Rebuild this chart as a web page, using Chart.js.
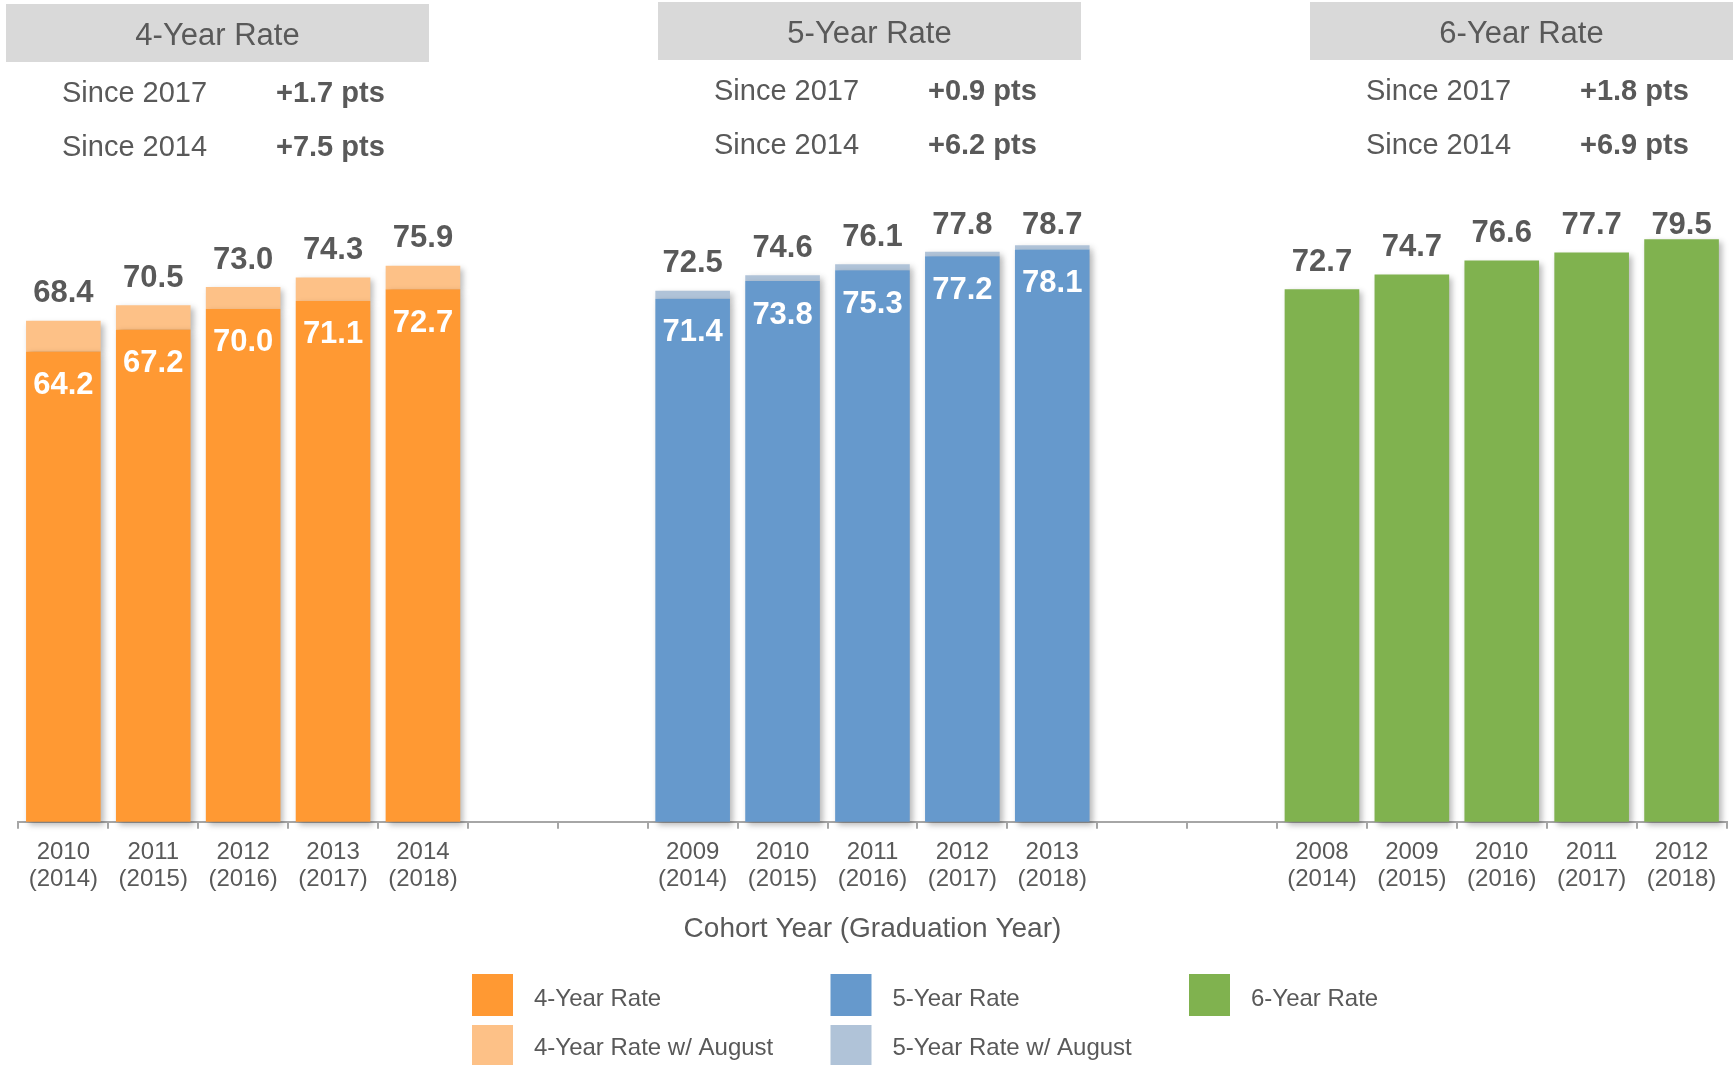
<!DOCTYPE html>
<html>
<head>
<meta charset="utf-8">
<title>Graduation Rates</title>
<script src="https://cdn.jsdelivr.net/npm/chart.js@4.4.1/dist/chart.umd.min.js"></script>
<style>
  html, body { margin: 0; padding: 0; background: #ffffff; }
  canvas { display: block; }
</style>
</head>
<body>
<canvas id="rateChart" width="1734" height="1065"></canvas>
<script>
// cohort years for each rate group (graduation years are the same for all three)
const cohorts4 = ["2010", "2011", "2012", "2013", "2014"];
const cohorts5 = ["2009", "2010", "2011", "2012", "2013"];
const cohorts6 = ["2008", "2009", "2010", "2011", "2012"];
const gradYears = ["2014", "2015", "2016", "2017", "2018"];

const rate4 = [64.2, 67.2, 70.0, 71.1, 72.7];
const rate4Aug = [68.4, 70.5, 73.0, 74.3, 75.9];
const rate5 = [71.4, 73.8, 75.3, 77.2, 78.1];
const rate5Aug = [72.5, 74.6, 76.1, 77.8, 78.7];
const rate6 = [72.7, 74.7, 76.6, 77.7, 79.5];

const groupTitles = ["4-Year Rate", "5-Year Rate", "6-Year Rate"];
const since2017 = ["+1.7 pts", "+0.9 pts", "+1.8 pts"];
const since2014 = ["+7.5 pts", "+6.2 pts", "+6.9 pts"];

const FONT = "'Liberation Sans', Arial, sans-serif";
const GREY = "#595959";

// 5 bars per group, 2 empty slots between groups
const PER_GROUP = 5;
const GAP = 2;
const SLOTS = 3 * PER_GROUP + 2 * GAP;

function place(group, arr) {
    let out = new Array(SLOTS).fill(null);
    arr.forEach(function(v, i) { out[group * (PER_GROUP + GAP) + i] = v; });
    return out;
}

let labels = new Array(SLOTS).fill("");
[cohorts4, cohorts5, cohorts6].forEach(function(list, g) {
    list.forEach(function(y, i) {
        labels[g * (PER_GROUP + GAP) + i] = [y, "(" + gradYears[i] + ")"];
    });
});

function extra(total, base) {
    return total.map(function(v, i) { return Math.round((v - base[i]) * 10) / 10; });
}

const datasets = [
    { label: "4-Year Rate", data: place(0, rate4), backgroundColor: "#FF9933",
      inside: place(0, rate4) },
    { label: "4-Year Rate w/ August", data: place(0, extra(rate4Aug, rate4)), backgroundColor: "#FDC187",
      onTop: place(0, rate4Aug) },
    { label: "5-Year Rate", data: place(1, rate5), backgroundColor: "#6699CC",
      inside: place(1, rate5) },
    { label: "5-Year Rate w/ August", data: place(1, extra(rate5Aug, rate5)), backgroundColor: "#B0C3D8",
      onTop: place(1, rate5Aug) },
    { label: "6-Year Rate", data: place(2, rate6), backgroundColor: "#80B24F",
      onTop: place(2, rate6) }
];

// header boxes above each group
const headerBoxes = [
    { x: 6, y: 4 },
    { x: 658, y: 2 },
    { x: 1310, y: 2 }
];

const headerPlugin = {
    id: "headers",
    afterDraw(chart) {
        const ctx = chart.ctx;
        ctx.save();
        headerBoxes.forEach(function(b, i) {
            ctx.fillStyle = "#D9D9D9";
            ctx.fillRect(b.x, b.y, 423, 58);
            ctx.fillStyle = GREY;
            ctx.textBaseline = "middle";
            ctx.textAlign = "center";
            ctx.font = "31px " + FONT;
            ctx.fillText(groupTitles[i], b.x + 211.5, b.y + 32);
            ctx.textAlign = "left";
            ctx.font = "29px " + FONT;
            ctx.fillText("Since 2017", b.x + 56, b.y + 90);
            ctx.fillText("Since 2014", b.x + 56, b.y + 144);
            ctx.font = "bold 29px " + FONT;
            ctx.fillText(since2017[i], b.x + 270, b.y + 90);
            ctx.fillText(since2014[i], b.x + 270, b.y + 144);
        });
        ctx.restore();
    }
};

const shadowPlugin = {
    id: "barShadow",
    beforeDatasetsDraw(chart) {
        const ctx = chart.ctx;
        ctx.save();
        ctx.shadowColor = "rgba(0,0,0,0.28)";
        ctx.shadowBlur = 6;
        ctx.shadowOffsetX = 3;
        ctx.shadowOffsetY = 3;
    },
    afterDatasetsDraw(chart) {
        chart.ctx.restore();
    }
};

// labels above the tallest bars are held below the summary text
const LABEL_MIN_Y = 225;

const valueLabels = {
    id: "valueLabels",
    afterDraw(chart) {
        const ctx = chart.ctx;
        ctx.save();
        ctx.font = "bold 31px " + FONT;
        ctx.textAlign = "center";
        ctx.textBaseline = "middle";
        chart.data.datasets.forEach(function(ds, di) {
            const meta = chart.getDatasetMeta(di);
            meta.data.forEach(function(bar, i) {
                if (ds.data[i] == null) return;
                if (ds.inside) {
                    ctx.fillStyle = "#FFFFFF";
                    ctx.fillText(ds.inside[i].toFixed(1), bar.x, bar.y + 34);
                }
                if (ds.onTop) {
                    ctx.fillStyle = GREY;
                    ctx.fillText(ds.onTop[i].toFixed(1), bar.x, Math.max(bar.y - 27, LABEL_MIN_Y));
                }
            });
        });
        ctx.restore();
    }
};

// legend laid out as a grid: [dataset index, column, row]
const legendCells = [[0, 0, 0], [2, 1, 0], [4, 2, 0], [1, 0, 1], [3, 1, 1]];

const gridLegend = {
    id: "gridLegend",
    afterDraw(chart) {
        const ctx = chart.ctx;
        ctx.save();
        ctx.font = "24px " + FONT;
        ctx.textBaseline = "middle";
        ctx.textAlign = "left";
        legendCells.forEach(function(c) {
            const ds = chart.data.datasets[c[0]];
            const x = 472 + c[1] * 358.5;
            const y = 974 + c[2] * 51;
            ctx.fillStyle = ds.backgroundColor;
            ctx.fillRect(x, y, 41, 42);
            ctx.fillStyle = GREY;
            ctx.fillText(ds.label, x + 62, y + (c[2] === 0 ? 25 : 23));
        });
        ctx.restore();
    }
};

datasets.forEach(function(d) { d.clip = false; });

const ctx = document.getElementById("rateChart").getContext("2d");

const rateChart = new Chart(ctx, {
    type: "bar",
    data: { labels: labels, datasets: datasets },
    options: {
        responsive: false,
        animation: false,
        devicePixelRatio: 1,
        layout: { padding: { left: 18.4, right: 7.5, top: 89.2, bottom: 0 } },
        datasets: { bar: { categoryPercentage: 1, barPercentage: 0.83 } },
        plugins: {
            legend: { display: false },
            tooltip: { enabled: false }
        },
        scales: {
            x: {
                stacked: true,
                z: 1,
                border: { display: true, color: "#A6A6A6", width: 2 },
                grid: { drawOnChartArea: false, drawTicks: true, tickLength: 7, color: "#A6A6A6", lineWidth: 2, offset: true },
                ticks: { color: GREY, padding: 10, maxRotation: 0, autoSkip: false,
                         font: { family: FONT, size: 24, lineHeight: 1.14 } },
                title: { display: true, text: "Cohort Year (Graduation Year)", color: GREY,
                         font: { family: FONT, size: 28, lineHeight: 1.2 },
                         padding: { top: 0, bottom: 119 } },
                afterFit: function(scale) { scale.height = 243.3; }
            },
            y: { display: false, stacked: true, min: 0, max: 100 }
        }
    },
    plugins: [shadowPlugin, valueLabels, headerPlugin, gridLegend]
});
</script>
</body>
</html>
